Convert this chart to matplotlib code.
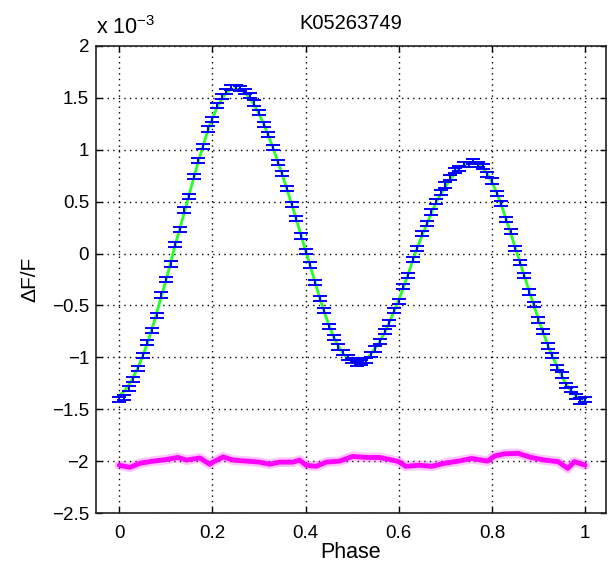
import numpy as np
import matplotlib
matplotlib.use("Agg")
import matplotlib.pyplot as plt

plt.rcParams['font.family'] = ['Liberation Sans', 'DejaVu Sans']
plt.rcParams['mathtext.fontset'] = 'custom'
plt.rcParams['mathtext.rm'] = 'Liberation Sans'

# phase-folded light curve, flux values in units of 1e-3
phase = np.round(np.arange(0, 1.001, 0.01), 2)

flux = [-1.41, -1.39, -1.30, -1.21, -1.11, -0.98, -0.86, -0.74, -0.60, -0.40,
        -0.25, -0.10, 0.09, 0.23, 0.42, 0.55, 0.74, 0.90, 1.03, 1.20,
        1.29, 1.43, 1.51, 1.56, 1.60, 1.60, 1.59, 1.56, 1.52, 1.45,
        1.36, 1.24, 1.15, 1.02, 0.88, 0.77, 0.63, 0.47, 0.34, 0.17,
        0.02, -0.11, -0.28, -0.43, -0.55, -0.70, -0.81, -0.90, -0.95, -1.00,
        -1.03, -1.06, -1.05, -1.03, -0.97, -0.92, -0.85, -0.75, -0.67, -0.55,
        -0.46, -0.32, -0.21, -0.06, 0.05, 0.19, 0.29, 0.40, 0.50, 0.59,
        0.66, 0.73, 0.80, 0.82, 0.86, 0.86, 0.89, 0.86, 0.84, 0.76,
        0.70, 0.58, 0.48, 0.33, 0.21, 0.05, -0.09, -0.21, -0.37, -0.49,
        -0.64, -0.75, -0.89, -0.98, -1.10, -1.17, -1.27, -1.31, -1.38, -1.42,
        -1.41]
flux_err = 0.025

model = [-1.37, -1.33, -1.27, -1.19, -1.10, -0.99, -0.87, -0.73, -0.58, -0.42,
         -0.26, -0.09, 0.08, 0.24, 0.40, 0.57, 0.73, 0.89, 1.04, 1.18,
         1.30, 1.41, 1.49, 1.55, 1.58, 1.59, 1.58, 1.55, 1.50, 1.43,
         1.35, 1.25, 1.14, 1.02, 0.89, 0.76, 0.62, 0.48, 0.33, 0.18,
         0.03, -0.12, -0.27, -0.42, -0.56, -0.69, -0.80, -0.89, -0.96, -1.01,
         -1.04, -1.05, -1.04, -1.02, -0.97, -0.91, -0.84, -0.76, -0.66, -0.56,
         -0.45, -0.33, -0.20, -0.07, 0.06, 0.17, 0.28, 0.39, 0.49, 0.57,
         0.64, 0.71, 0.77, 0.82, 0.85, 0.87, 0.88, 0.865, 0.83, 0.77,
         0.69, 0.59, 0.47, 0.34, 0.20, 0.06, -0.08, -0.22, -0.36, -0.50,
         -0.63, -0.76, -0.88, -0.99, -1.09, -1.18, -1.26, -1.32, -1.37, -1.40,
         -1.41]

# residuals (data - model), shifted down to -2e-3
resid_phase = [0.0, 0.023, 0.045, 0.073, 0.10, 0.126, 0.144, 0.173, 0.194, 0.205,
               0.223, 0.244, 0.273, 0.301, 0.323, 0.344, 0.373, 0.387, 0.401, 0.423,
               0.444, 0.473, 0.501, 0.53, 0.558, 0.586, 0.60, 0.615, 0.643, 0.671,
               0.699, 0.728, 0.756, 0.777, 0.791, 0.806, 0.827, 0.856, 0.884, 0.913,
               0.942, 0.963, 0.977, 1.0]
resid = [-2.04, -2.06, -2.02, -2.00, -1.985, -1.965, -1.99, -1.97, -2.03, -2.00,
         -1.96, -1.99, -2.00, -2.01, -2.03, -2.01, -2.01, -1.99, -2.04, -2.05,
         -2.01, -2.00, -1.955, -1.965, -1.965, -1.99, -2.005, -2.05, -2.04, -2.05,
         -2.02, -2.00, -1.975, -1.99, -2.00, -1.95, -1.93, -1.925, -1.965, -1.99,
         -2.005, -2.07, -2.005, -2.04]

fig = plt.figure(figsize=(6.08, 5.66), dpi=100)
ax = fig.add_axes([96 / 608, 53 / 566, 510 / 608, 467 / 566])

ax.plot(resid_phase, resid, color='#ff44ff', lw=7, alpha=0.3,
        solid_capstyle='round', solid_joinstyle='round', zorder=2)
ax.plot(resid_phase, resid, color='#ff00ff', lw=3.5,
        solid_capstyle='round', solid_joinstyle='round', zorder=3)

ax.plot(phase, model, color='#22ff22', lw=2, zorder=3)
ax.errorbar(phase, flux, yerr=flux_err, fmt='none', ecolor='#0000ff',
            elinewidth=1.4, capsize=5, capthick=1.4, zorder=4)

ax.set_xlim(-0.05, 1.045)
ax.set_ylim(-2.5, 2)
ax.set_xticks(np.arange(0, 1.01, 0.2))
ax.set_xticklabels(['0', '0.2', '0.4', '0.6', '0.8', '1'])
ax.set_yticks(np.arange(-2.5, 2.01, 0.5))
ax.set_yticklabels(['\u22122.5', '\u22122', '\u22121.5', '\u22121', '\u22120.5',
                    '0', '0.5', '1', '1.5', '2'])
ax.tick_params(direction='in', length=4, width=1, labelsize=13.5,
               top=True, right=True)
ax.tick_params(axis='x', pad=9)
ax.tick_params(axis='y', pad=5)
ax.grid(True, color='black', linestyle=(0, (1, 3)), linewidth=1)
for s in ax.spines.values():
    s.set_linewidth(1.2)
    s.set_color('#222222')

ax.text(0, 1.014, r'x 10$^{-3}$', transform=ax.transAxes, ha='left',
        va='bottom', fontsize=15.5)
ax.set_title('K05263749', fontsize=14.5, pad=12)
ax.set_xlabel('Phase', fontsize=15.5, labelpad=0)
ax.set_ylabel('\u0394F/F', fontsize=15, labelpad=9)

fig.savefig('out.png', dpi=100)
